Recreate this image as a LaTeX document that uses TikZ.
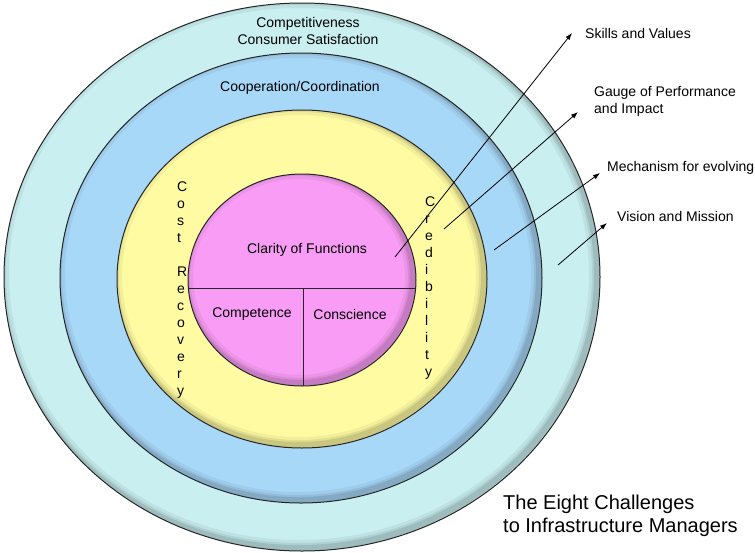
\documentclass[tikz,border=0pt]{standalone}
\usepackage{fontspec}
\setmainfont{Liberation Sans}
\usepackage{tikz}
\usetikzlibrary{arrows.meta,calc,positioning}

\definecolor{anelloA}{HTML}{C9EFF1}
\definecolor{anelloB}{HTML}{A8D8F8}
\definecolor{anelloC}{HTML}{FFFBA3}
\definecolor{anelloD}{HTML}{F99CF5}

\begin{document}
\begin{tikzpicture}[x=1pt, y=-1pt,
  bordo/.style={draw=black!85, line width=1pt},
  testo/.style={font=\fontsize{14}{17}\selectfont, inner sep=0pt, align=center},
  etich/.style={font=\fontsize{14}{17}\selectfont, inner sep=0pt, align=left, anchor=west},
  lettera/.style={font=\fontsize{14}{17}\selectfont, inner sep=0pt, anchor=base west},
  freccia/.style={-{Latex[length=7pt,width=5pt]}, line width=0.8pt}]

\useasboundingbox (0,0) rectangle (755,552);

% Anelli concentrici, dal piu' esterno al cuore
\foreach \cx/\cy/\rx/\ry/\col in {302/277/298/274/anelloA, 301/278/241/225/anelloB,
                                  302/279/185/169/anelloC, 302/280/114/106/anelloD} {
  \fill[\col] (\cx,\cy) ellipse [x radius=\rx, y radius=\ry];
  \begin{scope}
    \clip (\cx,\cy) ellipse [x radius=\rx, y radius=\ry];
    \foreach \w/\o in {16/0.05, 10/0.07, 6/0.1}
      \draw[black, opacity=\o, line width=\w pt]
        ([xshift=-3pt, yshift=3pt]\cx,\cy) ellipse [x radius=\rx, y radius=\ry];
  \end{scope}
  \draw[bordo] (\cx,\cy) ellipse [x radius=\rx, y radius=\ry];
}

% Divisioni del cuore
\coordinate (cuore) at (302,280);
\begin{scope}
  \clip (cuore) ellipse [x radius=114, y radius=106];
  \draw[black!85, line width=0.8pt] (180,288) -- (425,288);
  \draw[black!85, line width=0.8pt] (303,288) -- (303,400);
\end{scope}

% Testi negli anelli
\node[testo] (compet) at (308,31) {Competitiveness\\Consumer Satisfaction};
\node[testo] (coop) at (300,88) {Cooperation/Coordination};
\node[testo] (clarity) at (307,250) {Clarity of Functions};
\node[testo] (competence) at (252,314) {Competence};
\node[testo] (conscience) at (350,314) {Conscience};

% Scritte verticali
\foreach \ch [count=\i] in {C,o,s,t,{},R,e,c,o,v,e,r,y}
  \node[lettera] (cost-\i) at (177, {191+17*(\i-1)}) {\ch};
\foreach \ch [count=\i] in {C,r,e,d,i,b,i,l,i,t,y}
  \node[lettera] (cred-\i) at (425, {206+17*(\i-1)}) {\ch};

% Etichette a destra
\node[etich] (skills) at (585,33) {Skills and Values};
\node[etich] (gauge) at (594,101) {Gauge of Performance\\and Impact};
\node[etich] (mech) at (607,168) {Mechanism for evolving};
\node[etich] (vision) at (617,216) {Vision and Mission};

% Frecce verso le etichette
\coordinate (s1) at (395,257);
\coordinate (s2) at (444,229);
\coordinate (s3) at (494,250);
\coordinate (s4) at (558,265);
\draw[freccia] (s1) -- ([xshift=-13pt]skills.west);
\draw[freccia] (s2) -- ([xshift=-16pt, yshift=-11pt]gauge.west);
\draw[freccia] (s3) -- ([xshift=-7pt, yshift=-5pt]mech.west);
\draw[freccia] (s4) -- ([xshift=-10pt, yshift=-7pt]vision.west);

% Titolo
\node[font=\fontsize{20}{23.5}\selectfont, inner sep=0pt, align=left, anchor=west]
  (titolo) at (503,516) {The Eight Challenges\\to Infrastructure Managers};

\end{tikzpicture}
\end{document}
